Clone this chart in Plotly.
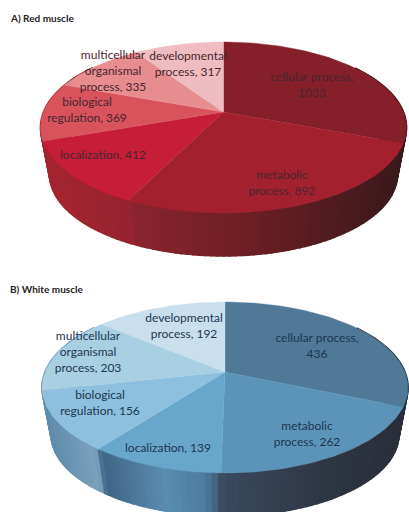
import math
import plotly.graph_objects as go

# Gene ontology counts for the two muscle types (clockwise from twelve o'clock)
categories = ["cellular process", "metabolic process", "localization",
              "biological regulation", "multicellular organismal process",
              "developmental process"]
red_values = [1033, 892, 412, 369, 335, 317]
white_values = [436, 262, 139, 156, 203, 192]

red_top = ["#851f2a", "#a3212f", "#c61d38", "#d9535d", "#e78d8f", "#efbdc1"]
white_top = ["#4f7997", "#5c94b9", "#69a6cb", "#8dc0de", "#a9cfe3", "#c9dfed"]

# Side wall colours along the rim, left to right
red_wall = [(46, "#a5252f"), (132, "#962330"), (133, "#8a2530"), (190, "#7c2129"),
            (250, "#6c1f24"), (320, "#561c20"), (400, "#3a1a1c")]
white_wall = [(46, "#5d8cad"), (92, "#7aa0bb"), (100, "#6f98b5"), (101, "#3f6485"),
              (165, "#5a8db0"), (205, "#4c7c9f"), (221, "#415a74"), (222, "#3a4a5e"),
              (330, "#2e3644"), (400, "#2a2f3a")]

TILT = 0.181       # perspective strength of the disc
RX, RY = 180, 82.7  # disc radii before perspective
DEPTH = 48         # drop of the base below the top face
BASE_SCALE = 0.95  # base looks slightly smaller than the top face


def project(angle, cx, cy, scale=1.0, drop=0.0):
    """Map a clockwise angle from twelve o'clock on the disc rim to the page."""
    u, v = math.sin(angle), -math.cos(angle)
    w = 1 - TILT * v
    return cx + scale * RX * u / w, cy + scale * RY * v / w + drop


def hex_rgb(c):
    return [int(c[i:i + 2], 16) for i in (1, 3, 5)]


def wall_colour(x, stops):
    if x <= stops[0][0]:
        return stops[0][1]
    for (x0, c0), (x1, c1) in zip(stops, stops[1:]):
        if x <= x1:
            t = (x - x0) / max(x1 - x0, 1e-6)
            a, b = hex_rgb(c0), hex_rgb(c1)
            return "rgb(%d,%d,%d)" % tuple(round(p + (q - p) * t) for p, q in zip(a, b))
    return stops[-1][1]


def add_pie(fig, values, colours, wall, cx, cy):
    total = sum(values)
    # Rim wall, painted from the back edges towards the front; bands overlap so no seams show
    steps = 150
    angles = [math.pi * 0.3 + (math.pi * 1.4) * i / steps for i in range(steps + 1)]
    order = sorted(range(steps), key=lambda i: project(angles[i], cx, cy)[1])
    for i in order:
        a0, a1 = angles[i], angles[min(i + 1, steps)]
        p = [project(a0, cx, cy), project(a1, cx, cy),
             project(a1, cx, cy, BASE_SCALE, DEPTH), project(a0, cx, cy, BASE_SCALE, DEPTH)]
        colour = wall_colour((p[0][0] + p[1][0]) / 2, wall)
        fig.add_trace(go.Scatter(
            x=[q[0] for q in p] + [p[0][0]], y=[q[1] for q in p] + [p[0][1]],
            mode="lines", fill="toself", fillcolor=colour,
            line=dict(color=colour, width=1.6), hoverinfo="skip", showlegend=False))
    # Top face slices, sized by their share of the total
    start = 0.0
    for name, value, colour in zip(categories, values, colours):
        sweep = 2 * math.pi * value / total
        n = max(int(sweep * 40), 2)
        rim = [project(start + sweep * j / n, cx, cy) for j in range(n + 1)]
        xs = [cx] + [q[0] for q in rim] + [cx]
        ys = [cy] + [q[1] for q in rim] + [cy]
        fig.add_trace(go.Scatter(
            x=xs, y=ys, mode="lines", fill="toself", fillcolor=colour,
            line=dict(color=colour, width=0.4), name=name,
            hovertext=f"{name}, {value}", hoverinfo="text", showlegend=False))
        start += sweep


def add_labels(fig, labels, colour):
    fig.add_trace(go.Scatter(
        x=[p[0] for p in labels], y=[p[1] for p in labels],
        text=[p[2] for p in labels], mode="text", textposition="middle center",
        textfont=dict(family="Lato", size=12, color=colour),
        hoverinfo="skip", showlegend=False))


fig = go.Figure()
add_pie(fig, red_values, red_top, red_wall, 223.5, 112)
add_pie(fig, white_values, white_top, white_wall, 225, 372)

add_labels(fig, [
    (312, 86, f"cellular process,<br>{red_values[0]}"),
    (282, 184, f"metabolic<br>process, {red_values[1]}"),
    (103, 156, f"localization, {red_values[2]}"),
    (87, 111, f"biological<br>regulation, {red_values[3]}"),
    (113, 72, f"multicellular<br>organismal<br>process, {red_values[4]}"),
    (188, 65, f"developmental<br>process, {red_values[5]}"),
], "#4a2530")
add_labels(fig, [
    (317, 347, f"cellular process,<br>{white_values[0]}"),
    (307, 435, f"metabolic<br>process, {white_values[1]}"),
    (168, 449, f"localization, {white_values[2]}"),
    (100, 404, f"biological<br>regulation, {white_values[3]}"),
    (88, 353, f"multicellular<br>organismal<br>process, {white_values[4]}"),
    (184, 327, f"developmental<br>process, {white_values[5]}"),
], "#1c3650")

for y, title in [(18, "A) Red muscle"), (289, "B) White muscle")]:
    fig.add_annotation(x=8, y=y, text=f"<b>{title}</b>", showarrow=False, xanchor="left",
                       font=dict(family="Lato", size=10, color="#222222"))

fig.update_layout(
    width=409, height=512, margin=dict(l=0, r=0, t=0, b=0),
    paper_bgcolor="white", plot_bgcolor="white", showlegend=False,
    xaxis=dict(range=[0, 409], visible=False, fixedrange=True),
    yaxis=dict(range=[512, 0], visible=False, fixedrange=True),
)
fig.write_html("out.html", config={"displayModeBar": False})
